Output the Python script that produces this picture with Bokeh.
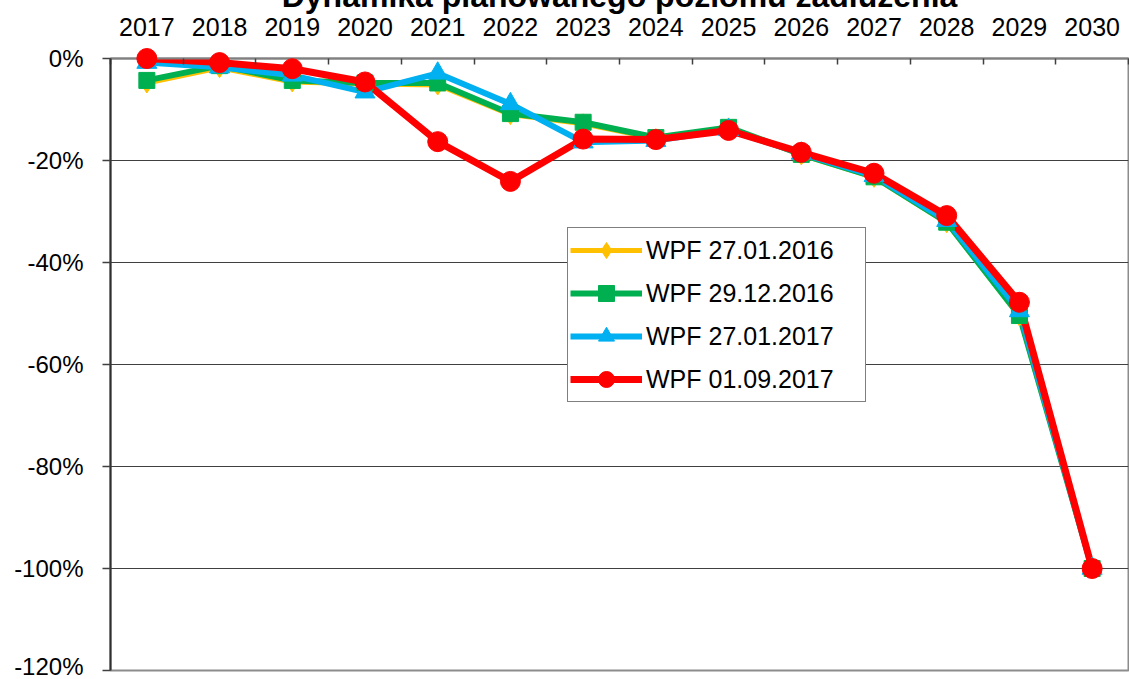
from bokeh.plotting import figure
from bokeh.models import Range1d, FixedTicker, PrintfTickFormatter
from bokeh.embed import file_html
from bokeh.resources import INLINE

# ---- data (percent) ----
years = [2017, 2018, 2019, 2020, 2021, 2022, 2023, 2024, 2025, 2026, 2027, 2028, 2029, 2030]
wpf_27_01_2016 = [-4.8, -1.8, -4.6, -5.0, -5.2, -11.0, -12.8, -15.7, -13.6, -18.9, -23.3, -32.2, -50.5, -100.0]
wpf_29_12_2016 = [-4.3, -1.4, -4.3, -4.8, -4.8, -10.8, -12.5, -15.5, -13.5, -18.8, -23.2, -32.1, -50.4, -100.0]
wpf_27_01_2017 = [-0.8, -1.7, -3.3, -6.6, -2.9, -8.9, -16.4, -16.1, -14.0, -18.6, -23.0, -31.8, -49.5, -100.0]
wpf_01_09_2017 = [0.0, -0.8, -2.0, -4.6, -16.3, -24.1, -15.8, -15.9, -14.1, -18.4, -22.5, -30.8, -47.8, -100.0]
series_labels = ["WPF 27.01.2016", "WPF 29.12.2016", "WPF 27.01.2017", "WPF 01.09.2017"]
y_ticks = [-120, -100, -80, -60, -40, -20, 0]
title_text = "Dynamika planowanego poziomu zadłużenia"

FONT = "Liberation Sans"

p = figure(width=1129, height=721, output_backend="svg", toolbar_location=None,
           x_range=Range1d(years[0] - 0.5, years[-1] + 0.5),
           y_range=Range1d(y_ticks[0], y_ticks[-1]),
           x_axis_location="above",
           min_border_left=110, min_border_right=1, min_border_top=100, min_border_bottom=9)
# shift the whole figure up so that the (cut-off) title sits at the very top edge
p.styles = {"margin-top": "-42px"}
p.background_fill_color = "white"
p.border_fill_color = "white"
p.outline_line_color = "#8c8c8c"
p.outline_line_width = 2

# title (partly cut off at the top, as in the original)
p.title.text = title_text
p.title.text_font = FONT
p.title.text_font_size = "32px"
p.title.text_font_style = "bold"
p.title.text_color = "black"
p.title.align = "center"
p.title.standoff = 2

# x axis (top)
bounds = [y - 0.5 for y in years] + [years[-1] + 0.5]
xa = p.xaxis[0]
xa.ticker = FixedTicker(ticks=years, minor_ticks=bounds)
xa.major_tick_in = 0
xa.major_tick_out = 0
xa.minor_tick_in = 6
xa.minor_tick_out = 0
xa.minor_tick_line_color = "#404040"
xa.minor_tick_line_width = 1.5
xa.axis_line_color = "#808080"
xa.axis_line_width = 2
xa.major_label_text_font = FONT
xa.major_label_text_font_size = "25px"
xa.major_label_text_color = "black"
xa.major_label_standoff = 23
p.xgrid.visible = False

# y axis
ya = p.yaxis[0]
ya.ticker = FixedTicker(ticks=y_ticks)
ya.formatter = PrintfTickFormatter(format="%d%%")
ya.major_tick_out = 8
ya.major_tick_in = 0
ya.major_tick_line_color = "#404040"
ya.major_tick_line_width = 1.5
ya.minor_tick_out = 0
ya.minor_tick_in = 0
ya.axis_line_color = "#303030"
ya.axis_line_width = 2
ya.major_label_text_font = FONT
ya.major_label_text_font_size = "24px"
ya.major_label_text_color = "black"
ya.major_label_standoff = 19
p.ygrid.ticker = FixedTicker(ticks=y_ticks)
p.ygrid.grid_line_color = "#404040"
p.ygrid.grid_line_width = 1

styles = [
    (wpf_27_01_2016, "#FFC000", "diamond", 20, 5),
    (wpf_29_12_2016, "#00B050", "square", 16, 6),
    (wpf_27_01_2017, "#00B0F0", "triangle", 20, 6),
    (wpf_01_09_2017, "#FF0000", "circle", 20, 7),
]
for (vals, color, marker, size, lw), lab in zip(styles, series_labels):
    p.line(years, vals, line_color=color, line_width=lw, legend_label=lab, line_join="round")
    p.scatter(years, vals, marker=marker, size=size, fill_color=color, line_color=color,
              legend_label=lab, level="overlay")

lg = p.legend[0]
lg.location = (457, 268)
lg.label_text_font = FONT
lg.label_text_font_size = "25px"
lg.label_text_color = "black"
lg.glyph_width = 72
lg.glyph_height = 40
lg.label_height = 30
lg.label_width = 217
lg.label_standoff = 4
lg.spacing = 3
lg.padding = 2
lg.margin = 0
lg.border_line_color = "black"
lg.border_line_width = 1
lg.background_fill_color = "white"
lg.background_fill_alpha = 1

open("out.html", "w").write(file_html(p, INLINE))
